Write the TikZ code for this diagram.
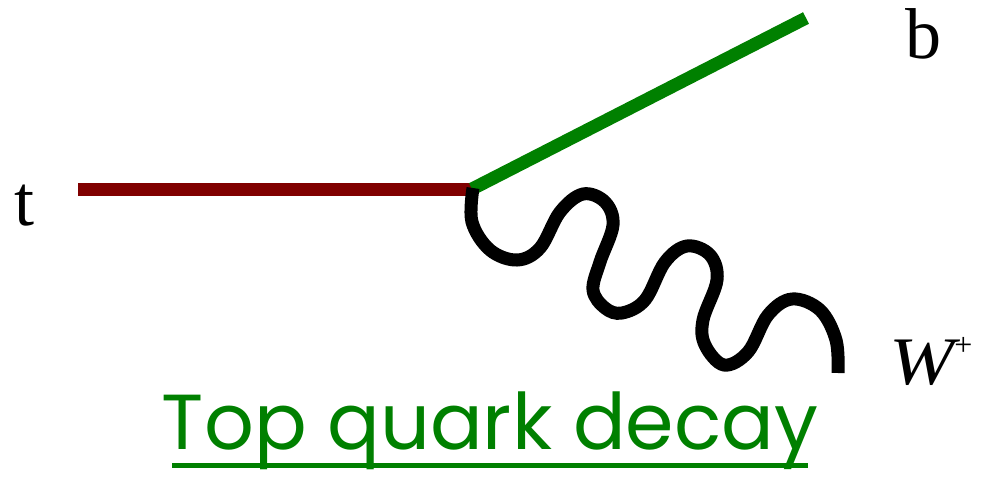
\documentclass[tikz,border=0pt]{standalone}
\usepackage{fontspec}
\setmainfont{Liberation Serif}
\newfontfamily\titlefont{Poppins}
\definecolor{topred}{HTML}{800000}
\definecolor{bgreen}{HTML}{008000}
\begin{document}
\begin{tikzpicture}[x=1pt,y=-1pt,
  prop/.style={line width=13pt},
  lbl/.style={inner sep=0pt,font=\fontsize{72}{72}\selectfont},
  ttl/.style={inner sep=0pt,text=bgreen,font=\titlefont\fontsize{78}{78}\selectfont}]
\useasboundingbox (0,0) rectangle (981,479);
\coordinate (tin) at (78,189);
\coordinate (vtx) at (472,189);
\coordinate (bout) at (806,18);
\coordinate (wout) at (838,373);
\coordinate (ul1) at (172,465);
\coordinate (ul2) at (808,465);
\draw[prop,topred] (tin) -- (vtx);
\draw[prop,bgreen] (vtx) -- (bout);
\draw[prop,black,line cap=butt] plot[smooth,tension=0.6] coordinates {
 (473,188) (472,222) (490,250) (517,260) (540,248) (560,212) (583,194)
 (605,202) (613,225) (600,262) (593,290) (605,308) (622,313) (645,300)
 (665,262) (687,246) (710,255) (717,280) (703,320) (705,345) (724,365)
 (748,352) (768,315) (792,299) (820,310) (836,340) (838,373)};
\node[lbl,anchor=base] (tl) at (25,225) {t};
\node[lbl,anchor=base] (bl) at (923,58) {b};
\node[inner sep=0pt,anchor=base west,font=\fontsize{68}{68}\selectfont] (wl) at (889,384) {\scalebox{1.15}[1]{\itshape W}\raisebox{29pt}{\fontsize{32}{32}\selectfont\upshape +}};
\node[ttl,anchor=base] (title) at (490,449) {Top quark decay};
\draw[bgreen,line width=5pt] (ul1) -- (ul2);
\end{tikzpicture}
\end{document}
